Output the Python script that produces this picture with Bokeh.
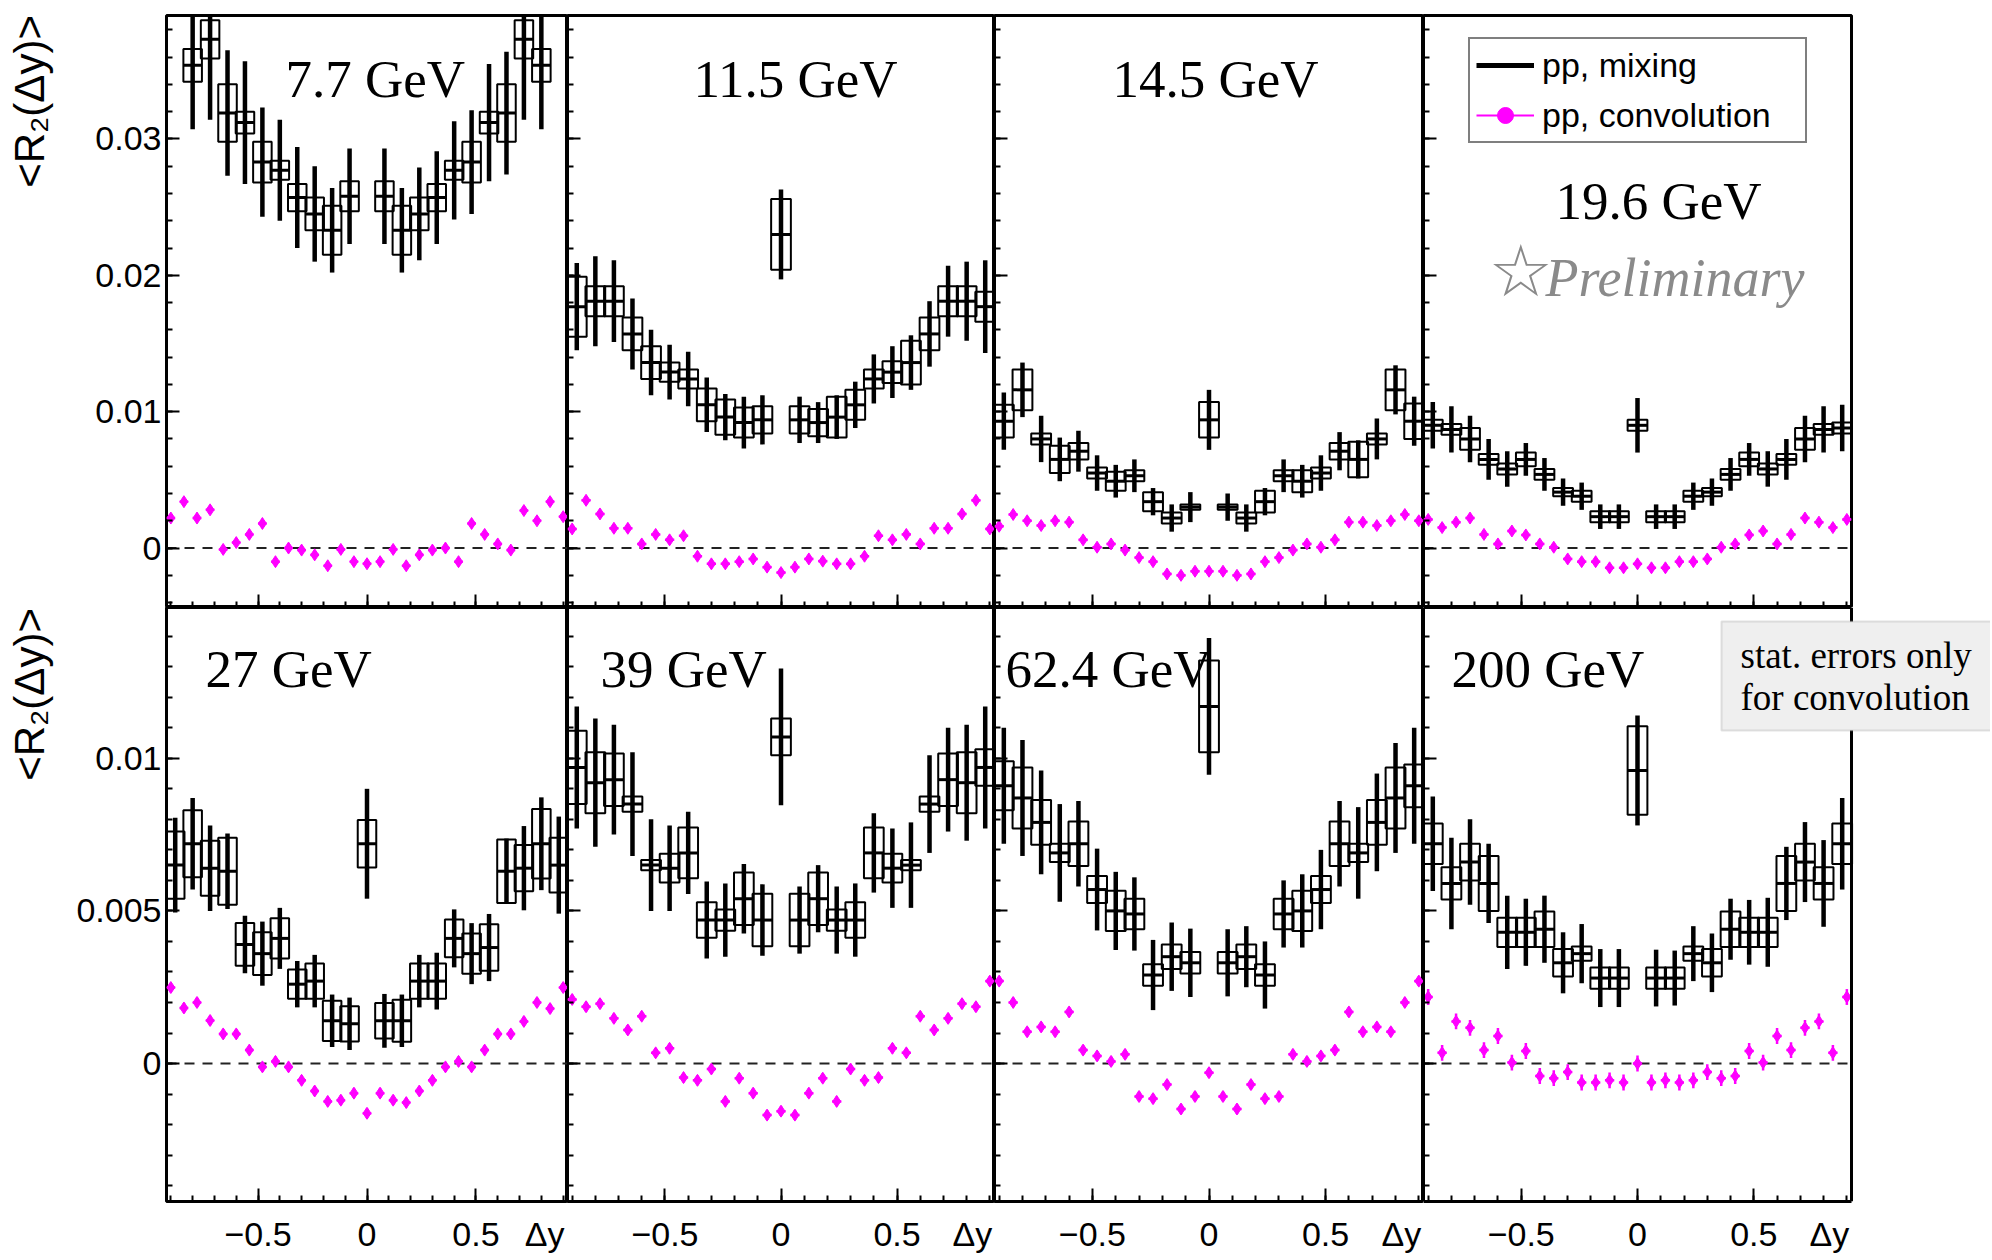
import math
import numpy as np
from bokeh.plotting import figure
from bokeh.models import (Range1d, FixedTicker, CustomJSTickFormatter, Span, Label,
                          Legend, LegendItem, BoxAnnotation, ColumnDataSource, LinearAxis)
from bokeh.layouts import gridplot
from bokeh.embed import file_html
from bokeh.resources import INLINE

nan = float("nan")

# ---------------- data ----------------
energies = ["7.7 GeV", "11.5 GeV", "14.5 GeV", "19.6 GeV",
            "27 GeV", "39 GeV", "62.4 GeV", "200 GeV"]

dy_mix = [-0.88, -0.80, -0.72, -0.64, -0.56, -0.48, -0.40, -0.32, -0.24, -0.16, -0.08, 0.0,
          0.08, 0.16, 0.24, 0.32, 0.40, 0.48, 0.56, 0.64, 0.72, 0.80, 0.88]
dy_conv = [-0.90, -0.84, -0.78, -0.72, -0.66, -0.60, -0.54, -0.48, -0.42, -0.36, -0.30, -0.24,
           -0.18, -0.12, -0.06, 0.0, 0.06, 0.12, 0.18, 0.24, 0.30, 0.36, 0.42, 0.48, 0.54,
           0.60, 0.66, 0.72, 0.78, 0.84, 0.90]

# pp, mixing : value, statistical error, systematic error
mix_7p7 = [nan, 0.0354, 0.0373, 0.0319, 0.0312, 0.0283, 0.0277, 0.0257, 0.0245, 0.0233, 0.0258, nan,
           0.0258, 0.0233, 0.0245, 0.0257, 0.0277, 0.0283, 0.0312, 0.0319, 0.0373, 0.0354, nan]
stat_7p7 = [nan, 0.0047, 0.0059, 0.0046, 0.0045, 0.0040, 0.0037, 0.0037, 0.0035, 0.0031, 0.0035, nan,
            0.0035, 0.0031, 0.0034, 0.0034, 0.0036, 0.0038, 0.0043, 0.0045, 0.0059, 0.0047, nan]
sys_7p7 = [nan, 0.0012, 0.0014, 0.0021, 0.0008, 0.0015, 0.0007, 0.0010, 0.0012, 0.0018, 0.0011, nan,
           0.0011, 0.0018, 0.0012, 0.0010, 0.0007, 0.0015, 0.0008, 0.0021, 0.0014, 0.0012, nan]

mix_11p5 = [0.0177, 0.0181, 0.0181, 0.0157, 0.0136, 0.0129, 0.0124, 0.0105, 0.0096, 0.0092, 0.0094, 0.0230,
            0.0094, 0.0092, 0.0096, 0.0105, 0.0124, 0.0129, 0.0136, 0.0157, 0.0181, 0.0181, 0.0177]
stat_11p5 = [0.0032, 0.0033, 0.0030, 0.0026, 0.0024, 0.0020, 0.0020, 0.0020, 0.0017, 0.0019, 0.0018, 0.0033,
             0.0017, 0.0015, 0.0016, 0.0017, 0.0018, 0.0019, 0.0020, 0.0024, 0.0026, 0.0029, 0.0034]
sys_11p5 = [0.0022, 0.0011, 0.0011, 0.0012, 0.0012, 0.0007, 0.0007, 0.0012, 0.0013, 0.0011, 0.0010, 0.0026,
            0.0010, 0.0010, 0.0015, 0.0011, 0.0007, 0.0008, 0.0016, 0.0012, 0.0011, 0.0011, 0.0011]

mix_14p5 = [0.0093, 0.0116, 0.0080, 0.0065, 0.0071, 0.0055, 0.0049, 0.0053, 0.0034, 0.0022, 0.0030, 0.0094,
            0.0030, 0.0022, 0.0034, 0.0053, 0.0049, 0.0055, 0.0071, 0.0065, 0.0080, 0.0116, 0.0093]
stat_14p5 = [0.0021, 0.0020, 0.0017, 0.0016, 0.0015, 0.0013, 0.0012, 0.0012, 0.0010, 0.0010, 0.0011, 0.0022,
             0.0010, 0.0010, 0.0010, 0.0012, 0.0012, 0.0013, 0.0014, 0.0014, 0.0015, 0.0018, 0.0018]
sys_14p5 = [0.0012, 0.0015, 0.0004, 0.0010, 0.0006, 0.0004, 0.0007, 0.0004, 0.0007, 0.0004, 0.0002, 0.0013,
            0.0002, 0.0004, 0.0008, 0.0004, 0.0008, 0.0004, 0.0006, 0.0013, 0.0004, 0.0015, 0.0013]

mix_19p6 = [0.0090, 0.0087, 0.0080, 0.0065, 0.0058, 0.0065, 0.0054, 0.0041, 0.0038, 0.0023, 0.0023, 0.0090,
            0.0023, 0.0023, 0.0038, 0.0041, 0.0054, 0.0065, 0.0058, 0.0065, 0.0080, 0.0087, 0.0088]
stat_19p6 = [0.0017, 0.0017, 0.0017, 0.0015, 0.0013, 0.0012, 0.0012, 0.0010, 0.0010, 0.0009, 0.0009, 0.0020,
             0.0009, 0.0009, 0.0010, 0.0010, 0.0012, 0.0012, 0.0013, 0.0015, 0.0017, 0.0017, 0.0017]
sys_19p6 = [0.0004, 0.0004, 0.0008, 0.0004, 0.0004, 0.0005, 0.0004, 0.0003, 0.0004, 0.0004, 0.0004, 0.0004,
            0.0004, 0.0004, 0.0004, 0.0003, 0.0004, 0.0005, 0.0004, 0.0004, 0.0008, 0.0004, 0.0004]

mix_27 = [0.0065, 0.0072, 0.0064, 0.0063, 0.0039, 0.0036, 0.0041, 0.0026, 0.0027, 0.0014, 0.0013, 0.0072,
          0.0014, 0.0014, 0.0027, 0.0027, 0.0041, 0.0036, 0.0038, 0.0063, 0.0064, 0.0072, 0.0065]
stat_27 = [0.00155, 0.0015, 0.0014, 0.00124, 0.00094, 0.00105, 0.0010, 0.00076, 0.00086, 0.00086, 0.00086, 0.0018,
           0.00088, 0.00086, 0.00086, 0.00093, 0.00095, 0.0010, 0.0011, 0.00107, 0.00138, 0.00152, 0.00159]
sys_27 = [0.0011, 0.0011, 0.0009, 0.0011, 0.0007, 0.0007, 0.00066, 0.00048, 0.00058, 0.00066, 0.00058, 0.00078,
          0.00058, 0.00069, 0.00058, 0.00058, 0.00062, 0.00066, 0.00076, 0.00104, 0.00076, 0.00114, 0.0009]

mix_39 = [0.0097, 0.0092, 0.0093, 0.0085, 0.0065, 0.0064, 0.0069, 0.0047, 0.0047, 0.0054, 0.0047, 0.0107,
          0.0047, 0.0054, 0.0047, 0.0047, 0.0069, 0.0064, 0.0065, 0.0085, 0.0093, 0.0092, 0.0097]
stat_39 = [0.0020, 0.0021, 0.0018, 0.0017, 0.0015, 0.0014, 0.00135, 0.00126, 0.0012, 0.00114, 0.00117, 0.00224,
           0.0011, 0.0011, 0.0011, 0.0012, 0.0013, 0.0013, 0.0014, 0.0016, 0.0017, 0.0019, 0.0020]
sys_39 = [0.0012, 0.0010, 0.00086, 0.00025, 0.00017, 0.00047, 0.00083, 0.00058, 0.00035, 0.00086, 0.00086, 0.0006,
          0.00086, 0.00086, 0.00035, 0.00058, 0.00083, 0.00047, 0.00017, 0.00025, 0.00086, 0.0010, 0.0006]

mix_62p4 = [0.0091, 0.0087, 0.0079, 0.0069, 0.0072, 0.0057, 0.0050, 0.0049, 0.0029, 0.0035, 0.0033, 0.0117,
            0.0033, 0.0035, 0.0029, 0.0049, 0.0050, 0.0057, 0.0072, 0.0069, 0.0079, 0.0087, 0.0091]
stat_62p4 = [0.0019, 0.0019, 0.0017, 0.0016, 0.0014, 0.00134, 0.00128, 0.0012, 0.00115, 0.00112, 0.00112, 0.00224,
             0.0011, 0.0010, 0.0011, 0.0011, 0.0012, 0.0013, 0.0014, 0.0015, 0.0016, 0.0018, 0.0019]
sys_62p4 = [0.0008, 0.0010, 0.00073, 0.0003, 0.00073, 0.00044, 0.00066, 0.0005, 0.00035, 0.0004, 0.00035, 0.0015,
            0.00035, 0.0004, 0.00035, 0.0005, 0.00066, 0.00044, 0.00073, 0.0003, 0.00073, 0.0010, 0.0007]

mix_200 = [0.0072, 0.0059, 0.0066, 0.0059, 0.0043, 0.0043, 0.0044, 0.0033, 0.0036, 0.0028, 0.0028, 0.0096,
           0.0028, 0.0028, 0.0036, 0.0033, 0.0044, 0.0043, 0.0043, 0.0059, 0.0066, 0.0059, 0.0072]
stat_200 = [0.00155, 0.0015, 0.0014, 0.0013, 0.0012, 0.0011, 0.0011, 0.0010, 0.00097, 0.00095, 0.00095, 0.0018,
            0.00093, 0.0009, 0.0009, 0.00096, 0.0010, 0.00106, 0.00113, 0.0012, 0.00131, 0.00142, 0.0015]
sys_200 = [0.00066, 0.00053, 0.0006, 0.0009, 0.00048, 0.00048, 0.00058, 0.00045, 0.00023, 0.00035, 0.00035, 0.00145,
           0.00035, 0.00035, 0.00023, 0.00045, 0.00058, 0.00048, 0.00048, 0.0009, 0.0006, 0.00053, 0.00066]

# pp, convolution
conv_7p7 = [0.0022, 0.0034, 0.0022, 0.0028, -0.0001, 0.0004, 0.0010, 0.0018, -0.0010, 0.0000, -0.00015,
            -0.0005, -0.0013, -0.0001, -0.0010, -0.00115, -0.0010, -0.0001, -0.0013, -0.0005, -0.00015,
            0.0000, -0.0010, 0.0018, 0.0010, 0.0003, -0.00015, 0.00275, 0.0020, 0.0034, 0.0023]
conv_11p5 = [0.0014, 0.0035, 0.0025, 0.00145, 0.00145, 0.0003, 0.0010, 0.0006, 0.0009, -0.0006, -0.00116,
             -0.00116, -0.0010, -0.0008, -0.0014, -0.0018, -0.0014, -0.0008, -0.00096, -0.00116, -0.00116,
             -0.0006, 0.0009, 0.0006, 0.0010, 0.0003, 0.00145, 0.00145, 0.0025, 0.0035, 0.0014]
conv_14p5 = [0.0016, 0.00246, 0.0020, 0.00165, 0.0020, 0.0019, 0.0006, 0.00006, 0.0003, -0.00015, -0.0007,
             -0.0010, -0.0019, -0.0020, -0.0017, -0.0017, -0.0017, -0.0020, -0.0019, -0.0010, -0.0007,
             -0.00015, 0.0003, 0.00006, 0.0006, 0.0019, 0.0019, 0.00165, 0.0020, 0.00246, 0.0020]
conv_19p6 = [0.0021, 0.0015, 0.0019, 0.0022, 0.0010, 0.0003, 0.00125, 0.00096, 0.0003, 0.00006, -0.0008,
             -0.0010, -0.0010, -0.00145, -0.00145, -0.00116, -0.00145, -0.00145, -0.0010, -0.0010, -0.0008,
             0.00006, 0.0003, 0.00096, 0.00125, 0.0003, 0.0010, 0.0022, 0.0019, 0.0015, 0.0021]
conv_27 = [0.00249, 0.00182, 0.0020, 0.00141, 0.00097, 0.00097, 0.00044, -0.00011, 0.00007, -0.00011, -0.00055,
           -0.0009, -0.00124, -0.0012, -0.00097, -0.00163, -0.00097, -0.0012, -0.00128, -0.0009, -0.00055,
           -0.00011, 0.00007, -0.00011, 0.00044, 0.00097, 0.00097, 0.00138, 0.0020, 0.0018, 0.00249]
conv_39 = [0.0021, 0.00186, 0.00196, 0.00148, 0.0011, 0.00155, 0.00035, 0.0005, -0.00046, -0.00055, -0.00018,
           -0.00124, -0.00048, -0.00097, -0.00169, -0.00156, -0.00169, -0.00097, -0.00048, -0.00124, -0.00018,
           -0.00055, -0.00046, 0.0005, 0.00035, 0.00155, 0.0011, 0.00148, 0.00196, 0.00186, 0.0027]
conv_62p4 = [0.0027, 0.0020, 0.00104, 0.0012, 0.00104, 0.00169, 0.00044, 0.00025, 0.00007, 0.0003, -0.00108,
             -0.00115, -0.00069, -0.00149, -0.00108, -0.0003, -0.00108, -0.00149, -0.00069, -0.00115, -0.00108,
             0.0003, 0.00007, 0.00025, 0.00044, 0.00169, 0.00104, 0.0012, 0.00104, 0.0020, 0.0027]
conv_200 = [0.00218, 0.00035, 0.00138, 0.00117, 0.00044, 0.0009, 0.00003, 0.00041, -0.00041, -0.00048, -0.00028,
            -0.00062, -0.00062, -0.00055, -0.00062, 0.0, -0.00062, -0.00055, -0.00062, -0.00055, -0.00028,
            -0.00048, -0.00041, 0.00041, 0.00003, 0.0009, 0.00044, 0.00117, 0.00138, 0.00035, 0.00218]
conv_err = [0.0003, 0.0003, 0.0003, 0.0003, 0.00016, 0.00016, 0.00016, 0.00026]

mix_all = [mix_7p7, mix_11p5, mix_14p5, mix_19p6, mix_27, mix_39, mix_62p4, mix_200]
stat_all = [stat_7p7, stat_11p5, stat_14p5, stat_19p6, stat_27, stat_39, stat_62p4, stat_200]
sys_all = [sys_7p7, sys_11p5, sys_14p5, sys_19p6, sys_27, sys_39, sys_62p4, sys_200]
conv_all = [conv_7p7, conv_11p5, conv_14p5, conv_19p6, conv_27, conv_39, conv_62p4, conv_200]

x_ticks = [-0.5, 0.0, 0.5]
y_ticks_top = [0.0, 0.01, 0.02, 0.03]
y_ticks_bot = [0.0, 0.005, 0.01]
y_title = "<R\u2082(\u0394y)>"

# ---------------- layout / style ----------------
FRAME_W = [401, 427, 429, 428]
FRAME_H = [592, 594]
LEFT_B, RIGHT_B, TOP_B, BOT_B = 166, 139, 15, 57
X_LO, X_HI = -0.92, 0.92
Y_RANGES = [(-0.00436, 0.03905), (-0.00452, 0.01494)]
BOX_HW = 0.0425
ARM_HW = 0.02
MAGENTA = "#ff00ff"
SANS = "Liberation Sans"
SERIF = "Liberation Serif"
DY_POS = [0.815, 0.825, 0.825, 0.825]
# y-title: centred axis label, pushed toward the top end with leading no-break spaces
TITLE_PAD = [36, 36]
TITLE_STANDOFF = [40, 21]

# energy label positions (screen px relative to each frame, text middle)
label_pos = [(119, 529), (126, 529), (118, 529), (132, 407),
             (39, 533), (33, 533), (11, 533), (28, 533)]

minor_x = [round(-0.9 + 0.1 * k, 2) for k in range(19)]
minor_y_top = [round(-0.004 + 0.002 * k, 4) for k in range(22)]
minor_y_bot = [round(-0.004 + 0.001 * k, 4) for k in range(19)]

fmt_y = CustomJSTickFormatter(code="""
if (Math.abs(tick) < 1e-12) { return '0'; }
return (+tick.toFixed(4)).toString();
""")
fmt_x_dy = CustomJSTickFormatter(code="""
if (tick > 0.7) { return '\u0394y'; }
if (Math.abs(tick) < 1e-9) { return '0'; }
return (tick < 0 ? '\u2212' : '') + Math.abs(tick).toString();
""")


def blank_fmt():
    return CustomJSTickFormatter(code="return '';")


def style_ticks(ax):
    ax.axis_line_color = None
    ax.major_tick_out = 0
    ax.minor_tick_out = 0
    ax.major_tick_in = 13
    ax.minor_tick_in = 6
    ax.major_tick_line_width = 2
    ax.minor_tick_line_width = 2
    ax.major_tick_line_color = "black"
    ax.minor_tick_line_color = "black"


def hide_labels(ax):
    ax.formatter = blank_fmt()
    ax.major_label_text_font_size = "0px"
    ax.major_label_standoff = 0


figs = []
for i in range(8):
    r, c = divmod(i, 4)
    last = (i == 7)
    fw = FRAME_W[c] + (RIGHT_B if last else 0)
    x_hi = X_HI + (RIGHT_B * (X_HI - X_LO) / FRAME_W[c] if last else 0.0)
    p = figure(frame_width=fw, frame_height=FRAME_H[r],
               x_range=Range1d(X_LO, x_hi), y_range=Range1d(*Y_RANGES[r]),
               output_backend="svg", toolbar_location=None, tools="",
               min_border=0,
               min_border_left=LEFT_B if c == 0 else 0,
               min_border_right=RIGHT_B if (c == 3 and not last) else 0,
               min_border_top=TOP_B if r == 0 else 0,
               min_border_bottom=BOT_B if r == 1 else 0,
               background_fill_color="white", border_fill_color="white")
    p.outline_line_color = None if last else "black"
    p.outline_line_width = 3
    p.xgrid.visible = False
    p.ygrid.visible = False

    xa, ya = p.xaxis[0], p.yaxis[0]
    style_ticks(xa)
    style_ticks(ya)
    xa.ticker = FixedTicker(ticks=x_ticks, minor_ticks=minor_x)
    ya.ticker = FixedTicker(ticks=y_ticks_top if r == 0 else y_ticks_bot,
                            minor_ticks=minor_y_top if r == 0 else minor_y_bot)
    hide_labels(xa)
    if c == 0:
        ya.formatter = fmt_y
        ya.major_label_text_font = SANS
        ya.major_label_text_font_size = "34px"
        ya.major_label_text_color = "black"
        ya.major_label_standoff = 5
        # y-axis title on its own (tick-less) axis
        t_ax = LinearAxis(ticker=FixedTicker(ticks=[], minor_ticks=[]),
                          axis_line_color=None, major_tick_in=0, major_tick_out=0,
                          minor_tick_in=0, minor_tick_out=0,
                          axis_label="\u00a0" * TITLE_PAD[r] + y_title,
                          axis_label_standoff=TITLE_STANDOFF[r],
                          axis_label_text_font=SANS, axis_label_text_font_size="42px",
                          axis_label_text_font_style="normal", axis_label_text_color="black")
        hide_labels(t_ax)
        p.add_layout(t_ax, "left")
    else:
        hide_labels(ya)

    if last:
        # frame drawn from axis lines limited to the data window
        xa.bounds = (X_LO, X_HI)
        xa.axis_line_color = "black"
        xa.axis_line_width = 3
        ya.axis_line_color = "black"
        ya.axis_line_width = 3
        top_ax = LinearAxis(ticker=FixedTicker(ticks=[], minor_ticks=[]), bounds=(X_LO, X_HI),
                            axis_line_color="black", axis_line_width=3,
                            major_tick_in=0, major_tick_out=0, minor_tick_in=0, minor_tick_out=0)
        hide_labels(top_ax)
        p.add_layout(top_ax, "above")
        p.add_layout(Span(location=X_HI, dimension="height", line_color="black", line_width=3))

    if r == 1:
        lab_ax = LinearAxis(ticker=FixedTicker(ticks=x_ticks + [DY_POS[c]], minor_ticks=[]),
                            formatter=fmt_x_dy, axis_line_color=None,
                            major_tick_in=0, major_tick_out=0, minor_tick_in=0, minor_tick_out=0,
                            major_tick_line_color=None, minor_tick_line_color=None,
                            major_label_text_font=SANS, major_label_text_font_size="34px",
                            major_label_text_color="black", major_label_standoff=13)
        p.add_layout(lab_ax, "below")

    # zero line (across the data window)
    p.segment(x0=[X_LO], y0=[0.0], x1=[X_HI], y1=[0.0], line_color="#222222",
              line_width=2, line_dash="10 8")

    # pp, mixing
    x = np.array(dy_mix, dtype=float)
    y = np.array(mix_all[i], dtype=float)
    st = np.array(stat_all[i], dtype=float)
    sy = np.array(sys_all[i], dtype=float)
    src = ColumnDataSource(dict(x=x, y=y, lo=y - st, hi=y + st, blo=y - sy, bhi=y + sy,
                                xl=x - BOX_HW, xr=x + BOX_HW))
    p.quad(left="xl", right="xr", bottom="blo", top="bhi", source=src,
           fill_color=None, line_color="black", line_width=2)
    p.segment(x0="x", y0="lo", x1="x", y1="hi", source=src, line_color="black", line_width=4.5)
    p.segment(x0="xl", y0="y", x1="xr", y1="y", source=src, line_color="black", line_width=3)

    # pp, convolution
    xc = np.array(dy_conv, dtype=float)
    yc = np.array(conv_all[i], dtype=float)
    e = conv_err[i]
    csrc = ColumnDataSource(dict(x=xc, y=yc, lo=yc - e, hi=yc + e, xl=xc - ARM_HW, xr=xc + ARM_HW))
    p.segment(x0="x", y0="lo", x1="x", y1="hi", source=csrc, line_color=MAGENTA, line_width=2.5)
    p.segment(x0="xl", y0="y", x1="xr", y1="y", source=csrc, line_color=MAGENTA, line_width=2.5)
    p.scatter(x="x", y="y", source=csrc, marker="diamond", size=12,
              fill_color=MAGENTA, line_color=MAGENTA)

    # energy label
    lx, ly = label_pos[i]
    p.add_layout(Label(x=lx, y=ly, x_units="screen", y_units="screen", text=energies[i],
                       text_font=SERIF, text_font_size="53px", text_color="black",
                       text_baseline="middle"))
    figs.append(p)

# legend + preliminary in 19.6 GeV panel
p4 = figs[3]
r_mix = p4.line(x=[nan], y=[nan], line_color="black", line_width=5)
r_cl = p4.line(x=[nan], y=[nan], line_color=MAGENTA, line_width=2)
r_cd = p4.scatter(x=[nan], y=[nan], marker="circle", size=6, fill_color=MAGENTA, line_color=MAGENTA)
legend = Legend(items=[LegendItem(label="pp, mixing", renderers=[r_mix]),
                       LegendItem(label="pp, convolution", renderers=[r_cl, r_cd])],
                location=(45, 464), orientation="vertical",
                label_text_font=SANS, label_text_font_size="34px", label_text_color="black",
                glyph_width=58, glyph_height=40, label_height=40, label_width=257,
                label_standoff=8, spacing=10, padding=6, margin=0,
                border_line_color="black", border_line_width=2,
                background_fill_color="white", background_fill_alpha=1)
p4.add_layout(legend)
p4.add_layout(Label(x=65, y=337, x_units="screen", y_units="screen", text="\u2606",
                    text_font="DejaVu Sans", text_font_size="72px", text_color="#8a8a8a",
                    text_baseline="middle"))
p4.add_layout(Label(x=122, y=330, x_units="screen", y_units="screen", text="Preliminary",
                    text_font=SERIF, text_font_style="italic", text_font_size="54px",
                    text_color="#8a8a8a", text_baseline="middle"))

# note box in 200 GeV panel
p8 = figs[7]
p8.add_layout(BoxAnnotation(left=298, right=600, bottom=471, top=580,
                            left_units="screen", right_units="screen",
                            bottom_units="screen", top_units="screen",
                            fill_color="#efefef", fill_alpha=1.0,
                            line_color="#a0a0a0", line_width=2, level="overlay"))
p8.add_layout(Label(x=317, y=546, x_units="screen", y_units="screen", text="stat. errors only",
                    text_font=SERIF, text_font_size="37px", text_color="black",
                    text_baseline="middle", level="overlay"))
p8.add_layout(Label(x=317, y=504, x_units="screen", y_units="screen", text="for convolution",
                    text_font=SERIF, text_font_size="37px", text_color="black",
                    text_baseline="middle", level="overlay"))

layout = gridplot([figs[:4], figs[4:]], toolbar_location=None)

open("out.html", "w").write(file_html(layout, INLINE))
